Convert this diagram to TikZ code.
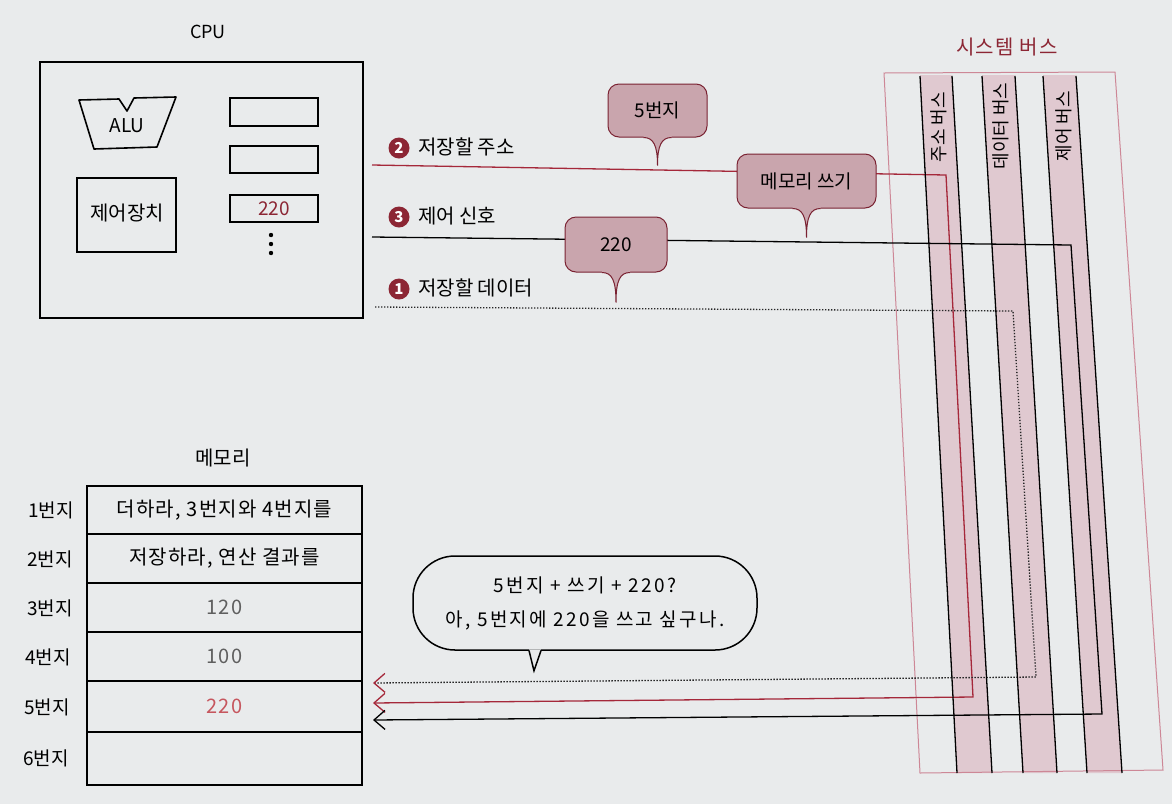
\documentclass[tikz,border=0pt]{standalone}
\usepackage{fontspec}
\setmainfont{Noto Sans CJK KR}
\usetikzlibrary{arrows.meta,calc}
\definecolor{paper}{RGB}{233,235,236}
\definecolor{dred}{RGB}{140,38,52}
\definecolor{busedge}{RGB}{205,135,150}
\definecolor{stripe}{RGB}{224,201,208}
\definecolor{bubfill}{RGB}{201,165,173}
\definecolor{bubedge}{RGB}{122,34,50}
\definecolor{memred}{RGB}{198,86,94}
\definecolor{sigred}{RGB}{165,40,58}
\definecolor{graytxt}{RGB}{95,95,95}
\newcommand\setfs[1]{\fontsize{#1}{#1}\selectfont}
\newcommand\bubtail[2]{%
  \fill[bubfill] ($(#1.south)+(-14,-1.6)$) -- ($(#1.south)+(-14,0)$)
    .. controls ($(#1.south)+(-4,0)$) and ($(#1.south)+(0,8)$) .. ($(#1.south)+(0,#2)$)
    .. controls ($(#1.south)+(0,8)$) and ($(#1.south)+(4,0)$) .. ($(#1.south)+(14,0)$)
    -- ($(#1.south)+(14,-1.6)$) -- cycle;
  \draw[bubedge, line width=1pt] ($(#1.south)+(-14,0)$)
    .. controls ($(#1.south)+(-4,0)$) and ($(#1.south)+(0,8)$) .. ($(#1.south)+(0,#2)$)
    .. controls ($(#1.south)+(0,8)$) and ($(#1.south)+(4,0)$) .. ($(#1.south)+(14,0)$);
}
\begin{document}
\begin{tikzpicture}[x=1pt,y=-1pt,
  box/.style={draw=black, line width=1.6pt, inner sep=0pt},
  lbl/.style={inner sep=0pt, font=\setfs{20}},
  num/.style={circle, fill=dred, text=white, inner sep=0pt, minimum size=21pt, font=\setfs{15}\bfseries},
  bub/.style={draw=bubedge, fill=bubfill, line width=1pt, rounded corners=11pt, inner sep=0pt, font=\setfs{19}},
  sig/.style={line width=1.3pt},
  tipk/.style={-{Straight Barb[length=11pt,width=19pt,line width=1.3pt]}},
  tipr/.style={-{Straight Barb[length=11pt,width=19pt,line width=1.3pt,color=sigred]}},
  busblack/.style={draw=black, line width=1.3pt},
  buslbl/.style={inner sep=0pt, rotate=90, font=\setfs{18}},
  rowlbl/.style={inner sep=0pt, anchor=east, font=\setfs{19}},
  memrow/.style={draw=black, line width=1.6pt, minimum width=275pt, inner sep=0pt, font=\setfs{20}\addfontfeature{LetterSpace=6}}
]
\useasboundingbox (0,0) rectangle (1172,804);
\fill[paper] (0,0) rectangle (1172,804);

% ---------------- CPU ----------------
\node[inner sep=0pt, font=\setfs{18}] (cputitle) at (208,32) {CPU};
\node[box, minimum width=323pt, minimum height=256pt] (cpu) at (201.5,190) {};
\draw[line width=1.6pt, line join=round] (79,100) -- (119,99) -- (127,111) -- (134,98) -- (176,97) -- (157,147) -- (94,149) -- cycle;
\node[inner sep=0pt, font=\setfs{19}] (alu) at (127,126) {ALU};
\node[box, minimum width=99pt, minimum height=74pt] (cu) at (126.5,215) {};
\node[lbl] (cutxt) at (127,213) {제어장치};
\node[box, minimum width=88pt, minimum height=28pt] (r1) at (274,112) {};
\node[box, minimum width=88pt, minimum height=27pt] (r2) at (274,159.5) {};
\node[box, minimum width=88pt, minimum height=27pt, text=dred, font=\setfs{19}] (r3) at (274,208.5) {220};
\fill (271,235) circle (2.2) (271,244) circle (2.2) (271,253) circle (2.2);

% ---------------- system bus ----------------
\node[inner sep=0pt, text=dred, font=\setfs{20}\addfontfeature{LetterSpace=6}] (bustitle) at (1007,47) {시스템 버스};
\fill[stripe] (920,75) -- (952,75) -- (992,773) -- (957,773) -- cycle;
\fill[stripe] (982,75) -- (1015,75) -- (1057,773) -- (1023,773) -- cycle;
\fill[stripe] (1043,75) -- (1076,75) -- (1122,773) -- (1087,773) -- cycle;
\draw[busedge, line width=1pt] (884,73) -- (1115,72) -- (1163,770) -- (920,773) -- cycle;

\node[buslbl] (abus) at (939,127) {주소 버스};
\node[buslbl] (dbus) at (1001,126) {데이터 버스};
\node[buslbl] (cbus) at (1064,126) {제어 버스};

% ---------------- signal lines ----------------
\coordinate (aS) at (372,165);
\coordinate (aTurn) at (946,175);
\coordinate (aDown) at (973,697);
\coordinate (aEnd) at (373,703);
\coordinate (cS) at (372,237);
\coordinate (cTurn) at (1071,245);
\coordinate (cDown) at (1102,714);
\coordinate (cEnd) at (373,720);
\coordinate (dS) at (375,307);
\coordinate (dTurn) at (1013,311);
\coordinate (dDown) at (1036,677);
\coordinate (dEnd) at (373,683);

\draw[sig, sigred, tipr, line join=miter] (aS) -- (aTurn) -- (aDown) -- (aEnd);
\draw[sig, black, tipk, line join=miter] (cS) -- (cTurn) -- (cDown) -- (cEnd);
\draw[line width=1.3pt, black!85, dash pattern=on 1.3pt off 1.7pt, tipr] (dS) -- (dTurn) -- (dDown) -- (dEnd);

% bus black lines
\draw[busblack] (920,76) -- (957,773);
\draw[busblack] (952,76) -- (992,773);
\draw[busblack] (982,76) -- (1023,773);
\draw[busblack] (1015,76) -- (1057,773);
\draw[busblack] (1043,76) -- (1087,773);
\draw[busblack] (1076,76) -- (1122,773);

% labels of signals
\node[num] (n2) at (399,148) {2};
\node[lbl, anchor=west] (l2) at (418,147) {저장할 주소};
\node[num] (n3) at (399,217) {3};
\node[lbl, anchor=west] (l3) at (418,216) {제어 신호};
\node[num] (n1) at (399,289) {1};
\node[lbl, anchor=west] (l1) at (418,288) {저장할 데이터};

% bubbles
\node[bub, minimum width=99pt, minimum height=53pt] (b5) at (657.5,110.5) {5번지};
\bubtail{b5}{28}
\node[bub, minimum width=139pt, minimum height=54pt] (bw) at (806.5,181) {메모리 쓰기};
\bubtail{bw}{29}
\node[bub, minimum width=102pt, minimum height=55pt] (b220) at (616,244.5) {220};
\bubtail{b220}{30}

% ---------------- memory ----------------
\node[lbl] (memtitle) at (223,458) {메모리};
\node[memrow, minimum height=48pt] (m1) at (224.5,510) {더하라, 3번지와 4번지를};
\node[memrow, minimum height=49pt] (m2) at (224.5,558.5) {저장하라, 연산 결과를};
\node[memrow, minimum height=49pt, text=graytxt] (m3) at (224.5,607.5) {120};
\node[memrow, minimum height=49pt, text=graytxt] (m4) at (224.5,656.5) {100};
\node[memrow, minimum height=51pt, text=memred] (m5) at (224.5,706.5) {220};
\node[memrow, minimum height=53pt] (m6) at (224.5,758.5) {};
\node[rowlbl] (a1) at (74,510) {1번지};
\node[rowlbl] (a2) at (73,559) {2번지};
\node[rowlbl] (a3) at (73,608) {3번지};
\node[rowlbl] (a4) at (71,657) {4번지};
\node[rowlbl] (a5) at (70,707) {5번지};
\node[rowlbl] (a6) at (69,758) {6번지};

% ---------------- speech bubble ----------------
\node[draw=black, line width=1.5pt, fill=paper, rounded corners=42pt, minimum width=344pt, minimum height=94pt, inner sep=0pt, align=center, font=\setfs{19}\addfontfeature{LetterSpace=12}] (say) at (585,603)
  {5번지 + 쓰기 + 220?\\[15pt]아, 5번지에 220을 쓰고 싶구나.};
\fill[paper] ($(say.south)+(-56,-1.5)$) -- ($(say.south)+(-51,20)$) -- ($(say.south)+(-44,-1.5)$) -- cycle;
\draw[line width=1.5pt, line join=miter] ($(say.south)+(-56,-0.2)$) -- ($(say.south)+(-51,20)$) -- ($(say.south)+(-44,-0.2)$);
\end{tikzpicture}
\end{document}
